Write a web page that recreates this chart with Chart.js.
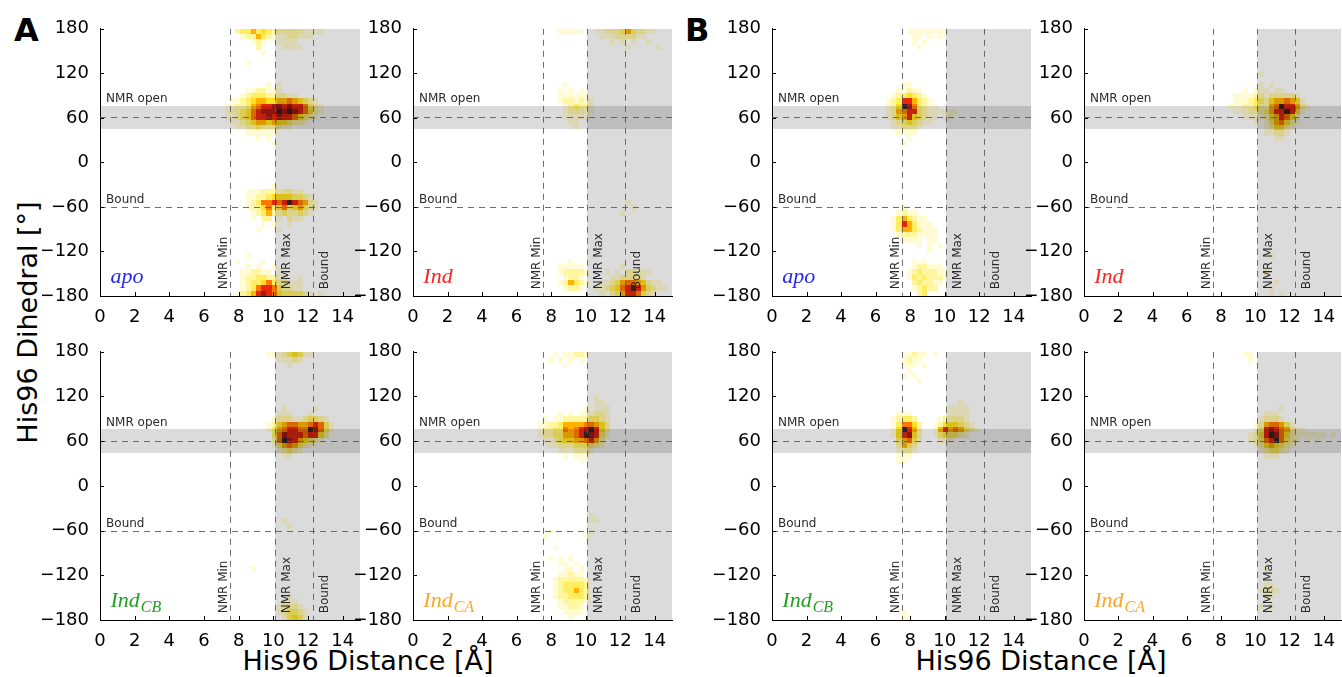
<!DOCTYPE html>
<html>
<head>
<meta charset="utf-8">
<script src="https://cdn.jsdelivr.net/npm/chart.js@4.4.0/dist/chart.umd.min.js"></script>
<style>
  body { margin: 0; background: #fff; width: 1342px; height: 677px; position: relative; overflow: hidden; font-family: "DejaVu Sans", sans-serif; }
  canvas { position: absolute; }
  .txt { position: absolute; white-space: nowrap; color: #000; }
  .letter { font-weight: bold; font-size: 32px; line-height: 32px; }
  .title { font-size: 27px; line-height: 27px; text-align: center; width: 400px; }
</style>
</head>
<body>
<div class="txt letter" style="left:14px; top:14px;">A</div>
<div class="txt letter" style="left:685px; top:14px;">B</div>
<div class="txt title" style="left:-173px; top:309px; transform: rotate(-90deg);">His96 Dihedral [°]</div>
<div class="txt title" style="left:168px; top:647px;">His96 Distance [Å]</div>
<div class="txt title" style="left:841px; top:647px;">His96 Distance [Å]</div>
<script>
// axes
const distTicks = [0, 2, 4, 6, 8, 10, 12, 14];
const dihedralTicks = [-180, -120, -60, 0, 60, 120, 180];
const distBin = 0.3, dihedralBin = 7.2;

// reference positions
const nmrMinDist = 7.5, nmrMaxDist = 10.1, boundDist = 12.3;
const nmrOpenLow = 44.5, nmrOpenHigh = 76.5, nmrOpenDihedral = 60.5, boundDihedral = -60;

// 2D histogram rows: [dihedral bin lower edge, distance lower edge of first bin, level 1-9 per 0.3 A bin ...]
const histApoA = [
  [172.8, 7.8, 2,3,3,5,3,4,3,2,2,2,2,2,2,1,1,1,1],
  [165.6, 8.1, 1,2,2,5,3,2,1,1,1,2,2,1,1,1],
  [158.4, 8.7, 1,2,1,0,0,1,1,1,1],
  [151.2, 9.0, 2,0,0,0,0,1,1,1,1],
  [144, 9.3, 1],
  [129.6, 8.4, 1],
  [100.8, 9.6, 1,0,1],
  [93.6, 8.4, 1,1,2,2,1,1,1],
  [86.4, 8.1, 1,2,3,3,3,2,2,2,2,1,1],
  [79.2, 7.5, 1,1,2,3,4,5,5,4,4,5,5,6,5,4,3,2,1],
  [72, 7.2, 1,1,2,2,3,5,6,7,7,8,8,7,8,7,7,6,3,2,1],
  [64.8, 7.2, 1,2,2,3,4,6,7,8,8,8,9,8,9,8,7,6,4,2,1],
  [57.6, 7.2, 1,1,2,3,4,6,7,7,8,7,8,7,7,6,4,3,2,1],
  [50.4, 7.5, 1,1,2,3,4,5,5,4,5,4,4,3,2,2,1],
  [43.2, 7.8, 1,1,2,2,3,2,2,2,2,1,1],
  [36, 8.4, 1,1,1,1,1,1],
  [28.8, 9.0, 1,0,1],
  [21.6, 9.9, 1],
  [-36, 9.9, 1],
  [-43.2, 8.4, 1,1,1,2,2,2,1,2,2,1,1],
  [-50.4, 8.4, 1,1,2,2,3,4,4,4,4,3,3,2,1],
  [-57.6, 8.4, 1,2,3,6,6,7,6,7,9,7,6,5,2,1],
  [-64.8, 8.4, 1,2,2,4,6,3,4,6,3,4,5,3,2,1],
  [-72, 8.7, 1,2,3,5,2,2,3,2,2,3,2,1],
  [-79.2, 8.7, 1,0,2,2,0,1,0,2,1,1],
  [-86.4, 9.3, 1,0,1,0,0,1],
  [-93.6, 9.0, 1,0,0,0,1],
  [-129.6, 8.4, 1],
  [-136.8, 7.8, 1,0,0,0,0,1],
  [-144, 8.4, 1,0,1,0,0,1],
  [-151.2, 8.1, 1,1,2,2,1,1,0,1],
  [-158.4, 8.1, 1,2,2,3,3,2,2,1,1,0,0,1],
  [-165.6, 8.1, 1,2,3,3,4,6,3,2,2,1,1,1],
  [-172.8, 8.1, 1,2,3,6,7,7,6,3,2,2,1,1],
  [-180, 7.8, 1,2,3,5,7,8,7,6,4,3,3,3,3,2,1,0,1]
];
const histIndA = [
  [172.8, 8.4, 1,1,1,1,1,0,0,1,1,2,2,2,3,5,3,2,2,1,1],
  [165.6, 10.8, 1,1,1,2,2,2,2,1,1],
  [158.4, 11.4, 1,0,1,0,1,0,0,1],
  [151.2, 12.3, 1,0,0,0,0,0,1],
  [100.8, 8.7, 1],
  [93.6, 8.4, 1,0,1,0,1],
  [86.4, 8.4, 1,1,1,1,1,1],
  [79.2, 8.4, 1,2,2,1,2,1,1],
  [72, 8.7, 1,2,3,2,2,1],
  [64.8, 8.7, 1,2,2,2,1,1],
  [57.6, 8.7, 1,1,1,1,1],
  [50.4, 9.0, 1,1],
  [43.2, 9.3, 1],
  [-57.6, 12.3, 1],
  [-64.8, 12.6, 1],
  [-72, 12.0, 1],
  [-136.8, 9.0, 1],
  [-144, 8.4, 1,1,1,1,1,0,0,0,0,0,0,0,1],
  [-151.2, 8.4, 1,2,2,2,2,1,0,0,0,1,0,1,0,2,2,2,1,1],
  [-158.4, 8.7, 1,2,2,1,0,0,0,0,0,1,1,2,2,2,2,1],
  [-165.6, 8.4, 1,2,5,3,2,1,0,0,1,1,2,3,5,6,6,5,4,2,1,1],
  [-172.8, 8.7, 1,2,2,1,0,0,1,1,2,3,4,6,7,9,7,5,3,2,1,1],
  [-180, 10.8, 1,0,2,3,5,7,7,6,3,2,1]
];
const histIndCbA = [
  [172.8, 9.6, 1,1,1,2,3,4,3,1,1],
  [165.6, 10.2, 1,1,1,2,1],
  [158.4, 10.8, 1],
  [100.8, 10.5, 1,0,0,0,0,0,1],
  [93.6, 10.2, 1,1,1,0,0,0,1],
  [86.4, 9.9, 1,2,2,2,1,1,2,3,3,2,1],
  [79.2, 9.6, 1,2,4,5,6,6,5,5,6,7,6,3,1],
  [72, 9.6, 1,3,5,6,7,7,6,6,9,8,6,3,1],
  [64.8, 9.9, 3,6,8,7,7,7,6,7,7,4,2],
  [57.6, 9.9, 2,6,9,8,7,5,4,3,2,1],
  [50.4, 9.9, 1,3,5,6,5,3,2,1],
  [43.2, 10.2, 1,2,3,2,1],
  [36, 10.5, 1,1],
  [-50.4, 10.5, 1],
  [-57.6, 10.8, 1],
  [-115.2, 8.7, 1],
  [-151.2, 10.8, 1],
  [-158.4, 10.5, 1,1,1],
  [-165.6, 10.2, 1,2,2,2,1],
  [-172.8, 10.2, 1,2,3,3,2,1],
  [-180, 10.5, 1,3,4,3,1]
];
const histIndCaA = [
  [172.8, 8.1, 1,0,1,1,2,2,1],
  [165.6, 7.8, 1,0,1,0,1,0,1],
  [158.4, 8.7, 1],
  [115.2, 10.5, 1],
  [108, 10.5, 1,1],
  [100.8, 9.9, 1,0,1,1,1],
  [93.6, 8.4, 1,0,1,0,1,1,1,2,2,1],
  [86.4, 7.5, 1,0,1,1,2,2,2,2,2,3,3,2,1],
  [79.2, 7.2, 1,1,2,2,3,5,5,5,5,6,6,5,4,2],
  [72, 7.2, 1,2,2,3,3,6,5,6,7,8,9,7,4,2],
  [64.8, 7.2, 1,2,2,3,3,5,5,6,7,9,8,7,3,1],
  [57.6, 7.5, 1,1,2,3,4,4,5,5,6,7,5,2],
  [50.4, 7.8, 1,1,2,2,2,3,3,3,3,2,1],
  [43.2, 8.4, 1,1,1,2,2,2,1],
  [36, 8.7, 1,0,1,1,1],
  [28.8, 9.6, 1],
  [-43.2, 10.2, 1],
  [-50.4, 10.2, 1,1],
  [-64.8, 7.8, 1,0,0,0,0,0,0,0,1],
  [-72, 7.5, 1,0,0,0,0,0,0,0,1],
  [-86.4, 8.1, 1],
  [-100.8, 7.8, 1,0,1,0,1],
  [-108, 8.4, 1,1,0,1],
  [-115.2, 8.7, 1,1,0,1],
  [-122.4, 8.4, 1,1,2,1,1],
  [-129.6, 8.1, 1,2,2,2,2,2,1],
  [-136.8, 8.1, 1,2,3,3,3,3,2],
  [-144, 8.1, 1,2,3,3,5,3,2],
  [-151.2, 8.1, 1,2,2,3,3,3,2],
  [-158.4, 8.4, 1,2,2,2,2,1],
  [-165.6, 8.4, 1,1,2,2,1],
  [-172.8, 8.7, 1,1,1,1],
  [-180, 9.0, 1]
];
const histApoB = [
  [172.8, 7.8, 1,1,1,1,1,1,1,1],
  [165.6, 8.1, 1,1,0,1,0,1],
  [158.4, 8.1, 1,0,1],
  [151.2, 8.4, 1],
  [100.8, 7.5, 1,1],
  [93.6, 7.2, 1,1,2,1,1],
  [86.4, 6.9, 1,2,3,4,3,2,1],
  [79.2, 6.6, 1,2,3,7,7,5,3,2,1],
  [72, 6.6, 1,2,4,9,8,6,3,2,1,1],
  [64.8, 6.6, 1,2,5,6,7,7,3,2,1,1,1,1,1,1],
  [57.6, 6.6, 1,2,4,5,7,4,3,2,1,1,0,1,1],
  [50.4, 6.9, 1,2,3,4,3,2,1,1],
  [43.2, 6.9, 1,1,2,2,2,1],
  [36, 7.2, 1,1,1,1],
  [28.8, 7.8, 1],
  [21.6, 7.5, 1],
  [-64.8, 7.5, 1],
  [-72, 7.2, 1,2,1,1],
  [-79.2, 6.9, 1,3,5,3,2,1,1],
  [-86.4, 6.9, 1,3,7,5,3,1,1,1],
  [-93.6, 6.9, 1,3,5,5,3,2,1,1,1],
  [-100.8, 7.2, 1,2,2,2,1,1,1,1],
  [-108, 7.5, 1,1,1,1,0,1,1],
  [-115.2, 8.4, 1,0,1,0,1],
  [-122.4, 9.0, 1],
  [-136.8, 8.1, 1,0,1],
  [-144, 8.1, 1,2,2,1,1,1],
  [-151.2, 7.8, 1,2,3,2,2,2,1,1],
  [-158.4, 7.8, 1,3,2,3,2,2,2,1],
  [-165.6, 8.1, 2,3,2,2,1,1],
  [-172.8, 8.1, 1,2,3,2,2],
  [-180, 8.4, 2,3]
];
const histIndB = [
  [115.2, 10.2, 1],
  [100.8, 10.2, 1,0,1],
  [93.6, 9.3, 1,0,1,1,1,0,1,1],
  [86.4, 8.7, 1,1,1,1,2,2,1,2,2,2,2,2,1],
  [79.2, 8.7, 1,1,1,2,3,3,2,4,5,5,6,5,4,1],
  [72, 8.4, 1,1,1,2,2,3,2,2,5,6,9,7,7,5,2,1],
  [64.8, 8.7, 1,1,1,2,2,2,3,5,7,7,9,7,4,1],
  [57.6, 9.3, 1,1,1,1,2,4,5,7,6,4,2],
  [50.4, 9.9, 1,0,1,3,5,6,4,2,1],
  [43.2, 10.5, 1,2,4,4,2,1],
  [36, 10.5, 1,1,2,2,1],
  [28.8, 11.1, 1,1],
  [-129.6, 10.8, 1],
  [-151.2, 10.5, 1],
  [-165.6, 11.1, 1],
  [-172.8, 10.8, 1],
  [-180, 10.8, 1,0,1]
];
const histIndCbB = [
  [172.8, 7.5, 1,1,2,1,1,0,1],
  [165.6, 7.5, 1,2,1,1],
  [158.4, 7.5, 1,1,1,0,1],
  [151.2, 7.8, 1],
  [144, 7.5, 1,0,1],
  [136.8, 8.4, 1],
  [108, 10.8, 1],
  [100.8, 10.2, 1,1,1,1],
  [93.6, 7.2, 1,1,1,0,0,0,0,0,0,0,1,1,1,1],
  [86.4, 6.9, 1,2,3,3,2,0,0,0,0,1,2,2,2,2,1],
  [79.2, 6.9, 1,3,6,6,4,2,0,0,1,2,4,4,4,3,2,1],
  [72, 6.9, 1,4,9,7,5,2,0,0,1,5,7,5,6,5,3,2,1],
  [64.8, 6.9, 1,4,7,8,4,2,0,0,1,3,4,3,3,2,1],
  [57.6, 7.2, 3,5,6,3,1,0,0,0,1,1,1],
  [50.4, 7.2, 2,5,3,2],
  [43.2, 7.2, 1,2,2,1],
  [36, 7.2, 1,1,1],
  [28.8, 7.2, 1,1],
  [-172.8, 7.5, 1],
  [-180, 7.5, 1,1]
];
const histIndCaB = [
  [172.8, 9.3, 1,1],
  [165.6, 9.6, 1],
  [100.8, 11.4, 1],
  [93.6, 10.5, 1,1,1],
  [86.4, 10.2, 1,2,2,2,1],
  [79.2, 9.9, 1,2,5,6,6,5,3,1],
  [72, 9.9, 1,3,7,8,7,6,5,2,1,1],
  [64.8, 9.6, 1,2,4,7,9,8,6,4,2,1,1,1,1,1,1,0,1],
  [57.6, 9.6, 1,2,3,6,7,9,6,3,2,1,0,1,0,1],
  [50.4, 9.9, 1,2,4,5,4,3,2,1],
  [43.2, 10.2, 1,2,3,3,2,1],
  [36, 10.5, 1,1,1],
  [-115.2, 10.5, 1],
  [-136.8, 10.5, 1,1],
  [-144, 10.2, 1,1,2,1],
  [-151.2, 10.5, 1,1],
  [-165.6, 10.2, 1,0,1]
];

// pale yellow -> yellow -> orange -> red -> black (hot_r like)
const heatColors = ['#fffbd4', '#fff6a2', '#ffee62', '#ffe020', '#ffb200', '#ff7800', '#e6260e', '#a41a14', '#382626'];

const panels = [
  { rows: histApoA,   name: 'apo', sub: '',   color: '#2424ff', left: 100,  top: 27,  w: 260, h: 269 },
  { rows: histIndA,   name: 'Ind', sub: '',   color: '#ff2020', left: 413,  top: 27,  w: 259, h: 269 },
  { rows: histIndCbA, name: 'Ind', sub: 'CB', color: '#22a022', left: 100,  top: 350, w: 260, h: 270 },
  { rows: histIndCaA, name: 'Ind', sub: 'CA', color: '#ffa520', left: 413,  top: 350, w: 259, h: 270 },
  { rows: histApoB,   name: 'apo', sub: '',   color: '#2424ff', left: 772,  top: 27,  w: 259, h: 269 },
  { rows: histIndB,   name: 'Ind', sub: '',   color: '#ff2020', left: 1084, top: 27,  w: 257, h: 269 },
  { rows: histIndCbB, name: 'Ind', sub: 'CB', color: '#22a022', left: 772,  top: 350, w: 259, h: 270 },
  { rows: histIndCaB, name: 'Ind', sub: 'CA', color: '#ffa520', left: 1084, top: 350, w: 257, h: 270 }
];

function toPoints(rows) {
  const pts = [];
  rows.forEach(r => {
    const y0 = r[0], x0 = r[1];
    r.slice(2).forEach((v, k) => {
      if (v > 0) pts.push({ x: x0 + k * distBin + distBin / 2, y: y0 + dihedralBin / 2, v: v });
    });
  });
  return pts;
}

const hist2dPlugin = {
  id: 'hist2d',
  afterDatasetsDraw(chart, args, opts) {
    const ctx = chart.ctx, a = chart.chartArea;
    const xs = chart.scales.x, ys = chart.scales.y;
    const px = v => xs.getPixelForValue(v), py = v => ys.getPixelForValue(v);
    ctx.save();
    ctx.beginPath();
    ctx.rect(a.left, a.top, a.right - a.left, a.bottom - a.top);
    ctx.clip();
    // histogram cells
    chart.data.datasets[0].data.forEach(pt => {
      const x0 = Math.round(px(pt.x - distBin / 2)), x1 = Math.round(px(pt.x + distBin / 2));
      const y0 = Math.round(py(pt.y + dihedralBin / 2)), y1 = Math.round(py(pt.y - dihedralBin / 2));
      ctx.fillStyle = heatColors[pt.v - 1];
      ctx.fillRect(x0, y0, x1 - x0, y1 - y0);
    });
    // shaded regions
    ctx.fillStyle = 'rgba(0,0,0,0.14)';
    const bx = Math.round(px(nmrMaxDist));
    ctx.fillRect(bx, a.top, a.right - bx, a.bottom - a.top);
    const by0 = Math.round(py(nmrOpenHigh)), by1 = Math.round(py(nmrOpenLow));
    ctx.fillRect(a.left, by0, a.right - a.left, by1 - by0);
    // dashed reference lines
    ctx.strokeStyle = 'rgba(85,85,85,0.85)';
    ctx.lineWidth = 1;
    ctx.setLineDash([6, 5]);
    [nmrMinDist, nmrMaxDist, boundDist].forEach(d => {
      const x = Math.round(px(d)) + 0.5;
      ctx.beginPath(); ctx.moveTo(x, a.top); ctx.lineTo(x, a.bottom); ctx.stroke();
    });
    [nmrOpenDihedral, boundDihedral].forEach(d => {
      const y = Math.round(py(d)) + 0.5;
      ctx.beginPath(); ctx.moveTo(a.left, y); ctx.lineTo(a.right, y); ctx.stroke();
    });
    ctx.setLineDash([]);
    ctx.restore();

    // annotations
    ctx.save();
    ctx.fillStyle = '#2a2a2a';
    ctx.font = '12px "DejaVu Sans"';
    ctx.textAlign = 'left';
    ctx.textBaseline = 'alphabetic';
    ctx.fillText('NMR open', px(0.35), py(81));
    ctx.fillText('Bound', px(0.35), py(-55));
    const vtext = (str, x, y) => {
      ctx.save(); ctx.translate(x, y); ctx.rotate(-Math.PI / 2); ctx.fillText(str, 0, 0); ctx.restore();
    };
    vtext('NMR Min', px(nmrMinDist) - 3, py(-171));
    vtext('NMR Max', px(nmrMaxDist) + 15, py(-171));
    vtext('Bound', px(boundDist) + 15, py(-171));
    // series label
    ctx.fillStyle = opts.color;
    ctx.font = 'italic 22px "Liberation Serif"';
    const lx = px(0.6), ly = py(-162);
    ctx.fillText(opts.label, lx, ly);
    if (opts.sub) {
      const w = ctx.measureText(opts.label).width;
      ctx.font = 'italic 16px "Liberation Serif"';
      ctx.fillText(opts.sub, lx + w + 1, ly + 5);
    }
    ctx.restore();
  },
  afterDraw(chart) {
    // inward tick marks, matplotlib style
    const ctx = chart.ctx, a = chart.chartArea;
    ctx.save();
    ctx.strokeStyle = '#000';
    ctx.lineWidth = 1;
    distTicks.forEach(v => {
      const x = Math.round(chart.scales.x.getPixelForValue(v)) + 0.5;
      ctx.beginPath(); ctx.moveTo(x, a.bottom); ctx.lineTo(x, a.bottom - 4); ctx.stroke();
    });
    dihedralTicks.forEach(v => {
      const y = Math.round(chart.scales.y.getPixelForValue(v)) + 0.5;
      ctx.beginPath(); ctx.moveTo(a.left, y); ctx.lineTo(a.left + 4, y); ctx.stroke();
    });
    ctx.restore();
  }
};

const tickFont = { family: 'DejaVu Sans', size: 18 };
const fmt = v => String(v).replace('-', '\u2212');
const yAxisW = 58;

panels.forEach(p => {
  const cv = document.createElement('canvas');
  const cw = yAxisW + p.w + 2, ch = 12 + p.h + 26;
  cv.width = cw; cv.height = ch;
  cv.style.left = (p.left - yAxisW) + 'px';
  cv.style.top = (p.top - 12) + 'px';
  cv.style.width = cw + 'px';
  cv.style.height = ch + 'px';
  document.body.appendChild(cv);
  new Chart(cv.getContext('2d'), {
    type: 'scatter',
    data: { datasets: [{ data: toPoints(p.rows), pointRadius: 0, pointHoverRadius: 0 }] },
    options: {
      responsive: false,
      animation: false,
      events: [],
      layout: { padding: { top: 12, right: 2, left: 0, bottom: 0 } },
      plugins: {
        legend: { display: false },
        tooltip: { enabled: false },
        hist2d: { label: p.name, sub: p.sub, color: p.color }
      },
      scales: {
        x: {
          type: 'linear', min: 0, max: 15,
          afterBuildTicks: s => { s.ticks = distTicks.map(v => ({ value: v })); },
          afterFit: s => { s.height = 26; },
          grid: { display: false },
          border: { display: true, color: '#000', width: 1 },
          ticks: { font: tickFont, color: '#000', padding: 3, maxRotation: 0, autoSkip: false, callback: fmt }
        },
        y: {
          type: 'linear', min: -180, max: 180,
          afterBuildTicks: s => { s.ticks = dihedralTicks.map(v => ({ value: v })); },
          afterFit: s => { s.width = yAxisW; },
          grid: { display: false },
          border: { display: true, color: '#000', width: 1 },
          ticks: { font: tickFont, color: '#000', padding: 3, autoSkip: false, callback: fmt }
        }
      }
    },
    plugins: [hist2dPlugin]
  });
});
</script>
</body>
</html>
